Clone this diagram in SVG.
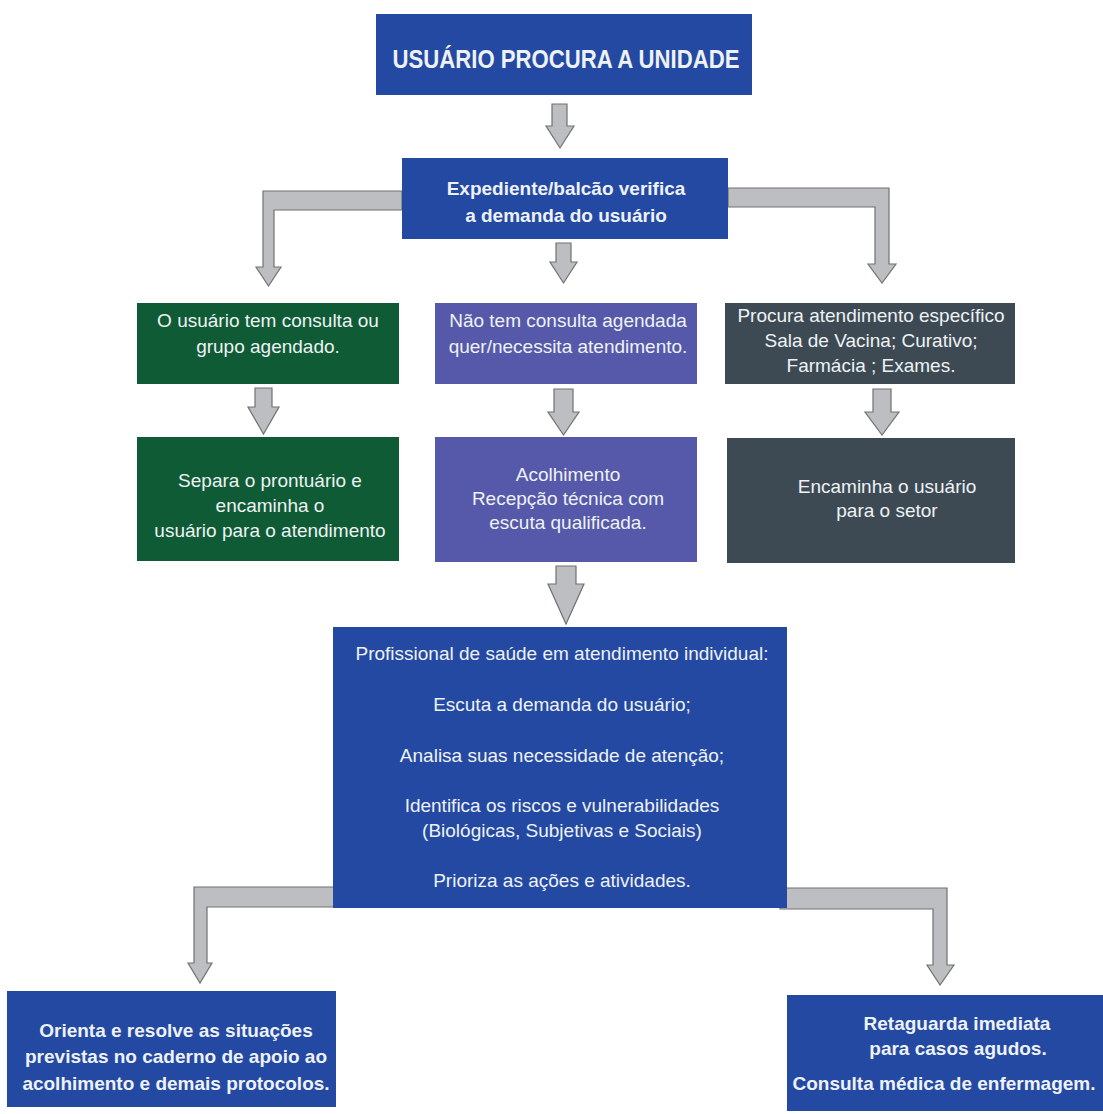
<svg xmlns="http://www.w3.org/2000/svg" width="1103" height="1114" viewBox="0 0 1103 1114">
<style>
.bg{fill:#ffffff}
.blue{fill:#2449a3}
.green{fill:#0e5b35}
.purple{fill:#5659a9}
.slate{fill:#3d4a54}
.arr{fill:#bdbec1;stroke:#707173;stroke-width:1.2;stroke-linejoin:miter}
text{font-family:"Liberation Sans",Arial,sans-serif;fill:#eef2f4;text-anchor:middle}
.n{font-size:19px}
.b{font-size:19px;font-weight:bold}
.t{font-size:25px;font-weight:bold}
</style>
<rect class="bg" x="0" y="0" width="1103" height="1114"/>
<g id="connectors">
  <polygon class="arr" points="552,104 567,104 567,126 574,126 560,148 546,126 552,126"/>
  <polygon class="arr" points="402,191 263,191 263,267 256,267 268.5,286 281,267 274,267 274,210 402,210"/>
  <polygon class="arr" points="556,243 571,243 571,262 577,262 563.5,283 550,262 556,262"/>
  <polygon class="arr" points="728,188 889,188 889,264 896,264 882,283 868,264 875,264 875,207 728,207"/>
  <polygon class="arr" points="255,388 272,388 272,407 279,407 263.5,434 248,407 255,407"/>
  <polygon class="arr" points="554,389 573,389 573,412 579,412 563.5,435 548,412 554,412"/>
  <polygon class="arr" points="873,389 891,389 891,412 899,412 882,435 865,412 873,412"/>
  <polygon class="arr" points="556,566 576,566 576,584 584,584 566,624 548,584 556,584"/>
  <polygon class="arr" points="340,887 194,887 194,963 188,963 200,983 212,963 207,963 207,907 340,907"/>
  <polygon class="arr" points="780,888 947,888 947,965 954,965 940,985 927,965 933,965 933,909 780,909"/>
</g>
<g id="n-usuario">
  <rect class="blue" x="376" y="14" width="376" height="81"/>
  <text class="t" x="566" y="68" textLength="347" lengthAdjust="spacingAndGlyphs">USUÁRIO PROCURA A UNIDADE</text>
</g>
<g id="n-expediente">
  <rect class="blue" x="402" y="158" width="326" height="81"/>
  <text class="b" x="566" y="195">Expediente/balcão verifica</text>
  <text class="b" x="566" y="222">a demanda do usuário</text>
</g>
<g id="n-agendado">
  <rect class="green" x="137" y="303" width="262" height="81"/>
  <text class="n" x="268" y="327">O usuário tem consulta ou</text>
  <text class="n" x="268" y="353">grupo agendado.</text>
</g>
<g id="n-nao-agendado">
  <rect class="purple" x="435" y="303" width="262" height="81"/>
  <text class="n" x="568" y="327">Não tem consulta agendada</text>
  <text class="n" x="568" y="353">quer/necessita atendimento.</text>
</g>
<g id="n-especifico">
  <rect class="slate" x="725" y="303" width="290" height="81"/>
  <text class="n" x="871" y="322">Procura atendimento específico</text>
  <text class="n" x="871" y="347">Sala de Vacina; Curativo;</text>
  <text class="n" x="871" y="372">Farmácia ; Exames.</text>
</g>
<g id="n-prontuario">
  <rect class="green" x="137" y="437" width="262" height="124"/>
  <text class="n" x="270" y="487">Separa o prontuário e</text>
  <text class="n" x="270" y="512">encaminha o</text>
  <text class="n" x="270" y="537">usuário para o atendimento</text>
</g>
<g id="n-acolhimento">
  <rect class="purple" x="435" y="437" width="262" height="125"/>
  <text class="n" x="568" y="481">Acolhimento</text>
  <text class="n" x="568" y="505">Recepção técnica com</text>
  <text class="n" x="568" y="529">escuta qualificada.</text>
</g>
<g id="n-setor">
  <rect class="slate" x="727" y="438" width="288" height="125"/>
  <text class="n" x="887" y="493">Encaminha o usuário</text>
  <text class="n" x="887" y="517">para o setor</text>
</g>
<g id="n-profissional">
  <rect class="blue" x="333" y="627" width="454" height="281"/>
  <text class="n" x="562" y="660">Profissional de saúde em atendimento individual:</text>
  <text class="n" x="562" y="711">Escuta a demanda do usuário;</text>
  <text class="n" x="562" y="762">Analisa suas necessidade de atenção;</text>
  <text class="n" x="562" y="812">Identifica os riscos e vulnerabilidades</text>
  <text class="n" x="562" y="837">(Biológicas, Subjetivas e Sociais)</text>
  <text class="n" x="562" y="887">Prioriza as ações e atividades.</text>
</g>
<g id="n-orienta">
  <rect class="blue" x="7" y="991" width="329" height="116"/>
  <text class="b" x="176" y="1037">Orienta e resolve as situações</text>
  <text class="b" x="176" y="1063">previstas no caderno de apoio ao</text>
  <text class="b" x="176" y="1090">acolhimento e demais protocolos.</text>
</g>
<g id="n-retaguarda">
  <rect class="blue" x="787" y="995" width="316" height="116"/>
  <text class="b" x="957" y="1030">Retaguarda imediata</text>
  <text class="b" x="958" y="1055">para casos agudos.</text>
  <text class="b" x="944" y="1090">Consulta médica de enfermagem.</text>
</g>
</svg>
